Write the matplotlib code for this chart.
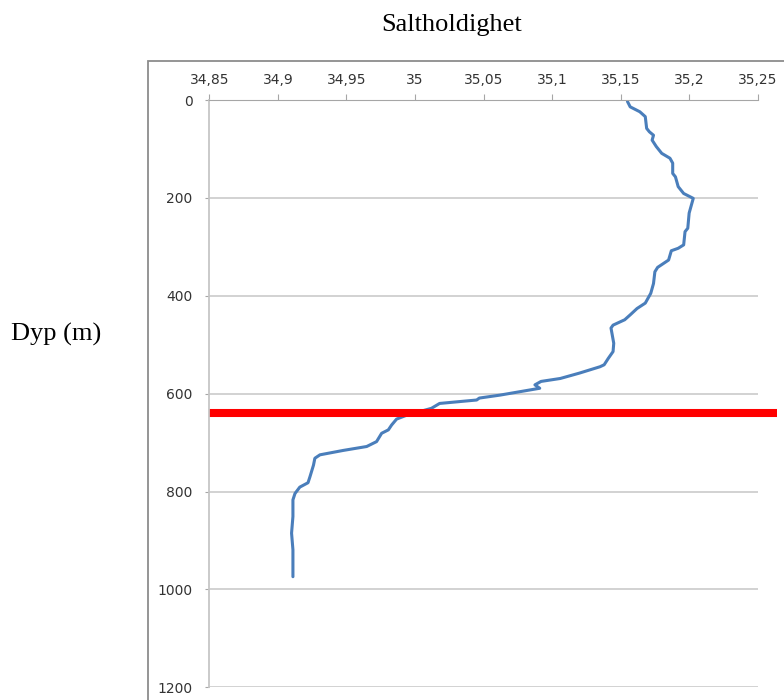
import matplotlib.pyplot as plt
from matplotlib.patches import Rectangle
from matplotlib.ticker import FuncFormatter, MultipleLocator

# salinity profile (psu) against depth (m)
depth = [3, 14, 24, 34, 58, 65, 72, 82, 95, 109, 119, 129, 150, 157, 177, 191,
         201, 231, 262, 269, 296, 303, 308, 327, 342, 351, 375, 395, 415, 426,
         439, 449, 460, 466, 497, 514, 528, 541, 545, 558, 569, 575, 582, 589,
         596, 603, 609, 613, 620, 630, 644, 652, 664, 674, 681, 698, 708, 716,
         725, 732, 746, 770, 782, 791, 804, 817, 851, 885, 919, 940, 974]
salinity = [35.155, 35.157, 35.164, 35.168, 35.169, 35.171, 35.174, 35.173,
            35.176, 35.180, 35.186, 35.188, 35.188, 35.190, 35.192, 35.196,
            35.203, 35.200, 35.199, 35.197, 35.196, 35.192, 35.187, 35.185,
            35.177, 35.175, 35.174, 35.172, 35.168, 35.162, 35.157, 35.153,
            35.1445, 35.143, 35.145, 35.1445, 35.141, 35.138, 35.135, 35.120,
            35.106, 35.092, 35.0875, 35.091, 35.0765, 35.062, 35.047, 35.045,
            35.018, 35.012, 34.994, 34.9866, 34.983, 34.9806, 34.9757, 34.972,
            34.9648, 34.9477, 34.9307, 34.927, 34.926, 34.9234, 34.922, 34.916,
            34.9125, 34.911, 34.911, 34.910, 34.911, 34.911, 34.911]

# marked boundary depth
marker_depth = 640

fig = plt.figure(figsize=(7.84, 7.0), dpi=100)

# outer chart frame (runs off the right and bottom edges)
fig.patches.append(Rectangle((148 / 784, -0.02), 0.9, 1 - 61 / 700 + 0.02,
                             transform=fig.transFigure, fill=False,
                             edgecolor='#8c8c8c', linewidth=1.3))

ax = fig.add_axes([209.3 / 784, 1 - 687.3 / 700, (757.7 - 209.3) / 784,
                   (687.3 - 100) / 700])
ax.plot(salinity, depth, color='#4a7ebb', linewidth=2.2, solid_capstyle='round')
ax.plot([34.85, 35.264], [marker_depth, marker_depth], color='#ff0000',
        linewidth=5.8, clip_on=False, solid_capstyle='butt')

ax.set_xlim(34.85, 35.25)
ax.set_ylim(1200, 0)
ax.xaxis.set_major_locator(MultipleLocator(0.05))
ax.yaxis.set_major_locator(MultipleLocator(200))
ax.xaxis.tick_top()
ax.xaxis.set_major_formatter(FuncFormatter(lambda v, p: ('%g' % round(v, 2)).replace('.', ',')))
ax.yaxis.set_major_formatter(FuncFormatter(lambda v, p: '%d' % v))

ax.grid(axis='y', color='#c6c6c6', linewidth=1.1)
ax.set_axisbelow(True)
for s in ['right', 'bottom']:
    ax.spines[s].set_visible(False)
ax.spines['top'].set_color('#a6a6a6')
ax.spines['left'].set_color('#c6c6c6')
ax.spines['left'].set_linewidth(1.3)
ax.tick_params(axis='x', colors='#a6a6a6', length=4, labelcolor='#333333',
               labelsize=10, pad=5)
ax.tick_params(axis='y', colors='#a6a6a6', length=3, labelcolor='#333333',
               labelsize=10, pad=9)

fig.text(452 / 784, 1 - 25 / 700, 'Saltholdighet', ha='center', va='center',
         family='Liberation Serif', fontsize=19)
fig.text(56 / 784, 1 - 334 / 700, 'Dyp (m)', ha='center', va='center',
         family='Liberation Serif', fontsize=19)

fig.savefig('out.png', dpi=100)
